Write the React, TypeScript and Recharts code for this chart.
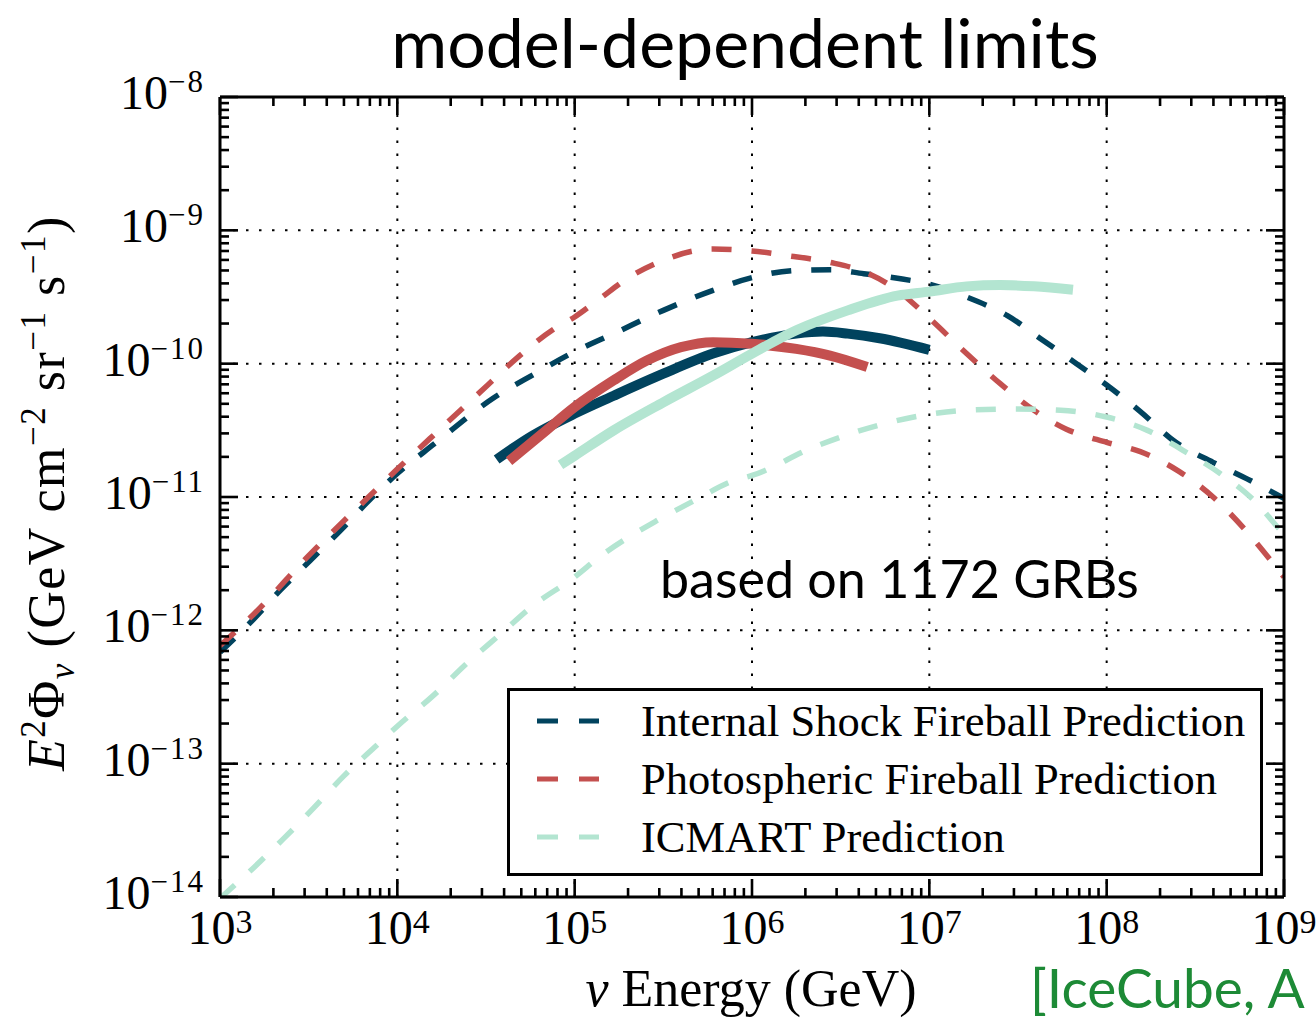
import React from 'react';
import { LineChart, Line, XAxis, YAxis, ReferenceLine, Legend } from 'recharts';

const W = 1316;
const H = 1019;

const SERIF = '"Liberation Serif", "DejaVu Serif", serif';
const SANS = 'Lato, "Open Sans", sans-serif';

const BLUE = '#01435e';
const RED = '#c4504f';
const MINT = '#b3e5d1';

// [E (GeV), E^2 Phi (GeV cm^-2 sr^-1 s^-1)]
const internalShockPrediction: [number, number][] = [
  [1e3, 6.84e-13], [1.549e3, 1.216e-12], [2.188e3, 2.0e-12], [3.236e3, 3.35e-12],
  [4.786e3, 5.62e-12], [6.761e3, 9.12e-12], [1e4, 1.5e-11], [1.622e4, 2.51e-11],
  [3.467e4, 5.5e-11], [5.888e4, 8.32e-11], [1e5, 1.23e-10], [1.66e5, 1.68e-10],
  [3.162e5, 2.51e-10], [6.026e5, 3.55e-10], [1e6, 4.42e-10], [1.778e6, 5.01e-10],
  [2.754e6, 5.07e-10], [4.266e6, 4.73e-10], [6.607e6, 4.37e-10], [1e7, 3.94e-10],
  [1.622e7, 3.16e-10], [2.754e7, 2.29e-10], [4.365e7, 1.5e-10], [6.761e7, 1.0e-10],
  [1e8, 6.92e-11], [1.549e8, 4.37e-11], [2.455e8, 2.57e-11], [3.981e8, 1.82e-11],
  [6.457e8, 1.33e-11], [1e9, 9.77e-12],
];

const internalShockLimit: [number, number][] = [
  [3.631e4, 1.91e-11], [5.623e4, 2.82e-11], [1e5, 4.22e-11], [1.66e5, 5.75e-11],
  [3.162e5, 8.41e-11], [6.026e5, 1.19e-10], [1e6, 1.45e-10], [1.778e6, 1.68e-10],
  [2.512e6, 1.74e-10], [3.467e6, 1.68e-10], [5.248e6, 1.55e-10], [1e7, 1.27e-10],
];

const photosphericPrediction: [number, number][] = [
  [1e3, 7.67e-13], [1.549e3, 1.32e-12], [3.162e3, 3.63e-12], [6.761e3, 9.77e-12],
  [1e4, 1.62e-11], [1.778e4, 3.31e-11], [3.236e4, 6.92e-11], [4.898e4, 1.15e-10],
  [7.943e4, 1.88e-10], [1e5, 2.24e-10], [1.349e5, 2.99e-10], [2.042e5, 4.47e-10],
  [3.162e5, 5.96e-10], [4.898e5, 7.08e-10], [6.026e5, 7.24e-10], [1e6, 7.0e-10],
  [1.585e6, 6.46e-10], [2.754e6, 5.75e-10], [4.266e6, 4.9e-10], [6.607e6, 3.55e-10],
  [1e7, 2.19e-10], [1.622e7, 1.19e-10], [2.512e7, 7.08e-11], [3.89e7, 4.47e-11],
  [5.888e7, 3.24e-11], [1e8, 2.57e-11], [1.549e8, 2.19e-11], [2.57e8, 1.55e-11],
  [3.981e8, 1.0e-11], [6.166e8, 5.5e-12], [8.71e8, 3.16e-12], [1e9, 2.51e-12],
];

const photosphericLimit: [number, number][] = [
  [4.266e4, 1.86e-11], [6.918e4, 3.16e-11], [1e5, 4.73e-11], [1.66e5, 7.5e-11],
  [2.57e5, 1.06e-10], [3.981e5, 1.33e-10], [6.026e5, 1.45e-10], [1e6, 1.41e-10],
  [1.778e6, 1.29e-10], [2.754e6, 1.15e-10], [4.467e6, 9.44e-11],
];

const icmartPrediction: [number, number][] = [
  [1e3, 9.77e-15], [1.549e3, 1.66e-14], [2.291e3, 2.75e-14], [3.388e3, 4.68e-14],
  [5.012e3, 8.13e-14], [7.413e3, 1.32e-13], [1e4, 1.91e-13], [1.622e4, 3.31e-13],
  [2.455e4, 5.62e-13], [3.802e4, 9.33e-13], [5.888e4, 1.55e-12], [1e5, 2.51e-12],
  [1.38e5, 3.55e-12], [2.884e5, 6.61e-12], [4.677e5, 9.33e-12], [7.943e5, 1.33e-11],
  [1e6, 1.45e-11], [2.239e6, 2.37e-11], [5.248e6, 3.47e-11], [1e7, 4.17e-11],
  [1.622e7, 4.47e-11], [3.09e7, 4.57e-11], [5.495e7, 4.47e-11], [1e8, 3.98e-11],
  [1.698e8, 3.16e-11], [2.692e8, 2.24e-11], [4.365e8, 1.5e-11], [6.761e8, 9.44e-12],
  [9.55e8, 5.62e-12], [1e9, 5.25e-12],
];

const icmartLimit: [number, number][] = [
  [8.318e4, 1.74e-11], [1e5, 2.04e-11], [1.66e5, 3.16e-11], [3.162e5, 5.13e-11],
  [6.026e5, 8.13e-11], [1e6, 1.19e-10], [1.778e6, 1.78e-10], [3.467e6, 2.51e-10],
  [6.607e6, 3.24e-10], [1e7, 3.47e-10], [1.622e7, 3.8e-10], [2.512e7, 3.89e-10],
  [3.89e7, 3.8e-10], [6.457e7, 3.59e-10],
];

const legendItems = [
  { label: 'Internal Shock Fireball Prediction', color: BLUE },
  { label: 'Photospheric Fireball Prediction', color: RED },
  { label: 'ICMART Prediction', color: MINT },
];

const X_MAJOR = [1e3, 1e4, 1e5, 1e6, 1e7, 1e8, 1e9];
const X_EXP = ['3', '4', '5', '6', '7', '8', '9'];
const Y_MAJOR = [1e-14, 1e-13, 1e-12, 1e-11, 1e-10, 1e-9, 1e-8];
const Y_EXP = ['\u221214', '\u221213', '\u221212', '\u221211', '\u221210', '\u22129', '\u22128'];
const MINOR_STEPS = [2, 3, 4, 5, 6, 7, 8, 9];

const withMinor = (majors: number[]) => [
  ...majors,
  ...majors.slice(0, -1).flatMap((d) => MINOR_STEPS.map((m) => m * d)),
];
const xTicks = withMinor(X_MAJOR);
const yTicks = withMinor(Y_MAJOR);

const toPts = (arr: [number, number][]) => arr.map(([e, f]) => ({ e, f }));

const MAJOR_LEN = 18;
const MINOR_LEN = 9;

// inward ticks, labels only on decades
const makeTick = (side: 'bottom' | 'top' | 'left' | 'right') => (props: any) => {
  const { x, y, payload } = props;
  const majors = side === 'bottom' || side === 'top' ? X_MAJOR : Y_MAJOR;
  const idx = majors.indexOf(payload.value);
  const len = idx >= 0 ? MAJOR_LEN : MINOR_LEN;
  let x2 = x;
  let y2 = y;
  if (side === 'bottom') y2 = y - len;
  if (side === 'top') y2 = y + len;
  if (side === 'left') x2 = x + len;
  if (side === 'right') x2 = x - len;
  return (
    <g>
      <line x1={x} y1={y} x2={x2} y2={y2} stroke="#000" strokeWidth={2.6} />
      {idx >= 0 && side === 'bottom' && (
        <text x={x} y={y + 47} textAnchor="middle" fontFamily={SERIF} fontSize={48} fill="#000">
          10<tspan dy={-11} fontSize={34}>{X_EXP[idx]}</tspan>
        </text>
      )}
      {idx >= 0 && side === 'left' && (
        <text x={x - 15} y={y + 12} textAnchor="end" fontFamily={SERIF} fontSize={48} fill="#000">
          10<tspan dy={-17} fontSize={31} letterSpacing={2}>{Y_EXP[idx]}</tspan>
        </text>
      )}
    </g>
  );
};

const LegendBox = () => (
  <svg width={756} height={188} style={{ display: 'block' }}>
    <rect x={1.5} y={1.5} width={753} height={185} fill="#fff" stroke="#000" strokeWidth={3} />
    {legendItems.map((it, i) => {
      const cy = 33 + i * 58;
      return (
        <g key={it.label}>
          <line x1={30} x2={92} y1={cy} y2={cy} stroke={it.color} strokeWidth={5} strokeDasharray="21 21" />
          <text x={134} y={cy + 15} fontFamily={SERIF} fontSize={44.5} fill="#000">
            {it.label}
          </text>
        </g>
      );
    })}
  </svg>
);

const sup = (s: string) => (
  <>
    <tspan dy={-19} fontSize={35}>{s}</tspan>
    <tspan dy={19}>{'\u00a0'}</tspan>
  </>
);

export default function App() {
  const series = [
    { key: 'isp', data: internalShockPrediction, color: BLUE, dashed: true },
    { key: 'psp', data: photosphericPrediction, color: RED, dashed: true },
    { key: 'icp', data: icmartPrediction, color: MINT, dashed: true },
    { key: 'isl', data: internalShockLimit, color: BLUE, dashed: false },
    { key: 'psl', data: photosphericLimit, color: RED, dashed: false },
    { key: 'icl', data: icmartLimit, color: MINT, dashed: false },
  ];

  const axisLine = { stroke: '#000', strokeWidth: 3 };

  return (
    <div style={{ position: 'absolute', left: 0, top: 0, width: W, height: H, background: '#fff' }}>
      <LineChart width={W} height={H} margin={{ top: 96, right: 31, bottom: 121, left: 219 }}>
        <XAxis
          xAxisId="b"
          dataKey="e"
          type="number"
          scale="log"
          domain={[1e3, 1e9]}
          allowDataOverflow
          ticks={xTicks}
          interval={0}
          height={1}
          tickSize={0}
          tickMargin={0}
          tick={makeTick('bottom')}
          axisLine={axisLine}
        />
        <XAxis
          xAxisId="t"
          orientation="top"
          dataKey="e"
          type="number"
          scale="log"
          domain={[1e3, 1e9]}
          allowDataOverflow
          ticks={xTicks}
          interval={0}
          height={1}
          tickSize={0}
          tickMargin={0}
          tick={makeTick('top')}
          axisLine={axisLine}
        />
        <YAxis
          yAxisId="l"
          type="number"
          scale="log"
          domain={[1e-14, 1e-8]}
          allowDataOverflow
          ticks={yTicks}
          interval={0}
          width={1}
          tickSize={0}
          tickMargin={0}
          tick={makeTick('left')}
          axisLine={axisLine}
        />
        <YAxis
          yAxisId="r"
          orientation="right"
          type="number"
          scale="log"
          domain={[1e-14, 1e-8]}
          allowDataOverflow
          ticks={yTicks}
          interval={0}
          width={1}
          tickSize={0}
          tickMargin={0}
          tick={makeTick('right')}
          axisLine={axisLine}
        />
        {X_MAJOR.slice(1, -1).map((v) => (
          <ReferenceLine key={'gx' + v} x={v} xAxisId="b" yAxisId="l" stroke="#000" strokeWidth={2} strokeDasharray="2.5 10.5" />
        ))}
        {Y_MAJOR.slice(1, -1).map((v) => (
          <ReferenceLine key={'gy' + v} y={v} xAxisId="b" yAxisId="l" stroke="#000" strokeWidth={2} strokeDasharray="2.5 10.5" />
        ))}
        {series.map((s) => (
          <Line
            key={s.key}
            xAxisId="b"
            yAxisId="l"
            data={toPts(s.data)}
            dataKey="f"
            type="monotone"
            stroke={s.color}
            strokeWidth={s.dashed ? 5.5 : 10}
            strokeDasharray={s.dashed ? '20 20' : undefined}
            dot={false}
            activeDot={false}
            isAnimationActive={false}
          />
        ))}
        <Legend
          layout="vertical"
          align="center"
          verticalAlign="middle"
          content={() => <LegendBox />}
          wrapperStyle={{ position: 'absolute', left: 507, top: 688, width: 756, height: 188 }}
        />
      </LineChart>
      <svg width={W} height={H} style={{ position: 'absolute', left: 0, top: 0, pointerEvents: 'none' }}>
        <text x={745} y={68} textAnchor="middle" fontFamily={SANS} fontSize={68} fill="#000">
          model-dependent limits
        </text>
        <text x={660} y={598} fontFamily={SANS} fontSize={52} fill="#000">
          based on 1172 GRBs
        </text>
        <text x={751} y={1006} textAnchor="middle" fontFamily={SERIF} fontSize={52} fill="#000">
          <tspan fontStyle="italic">{'\u03bd'}</tspan>
          {' Energy (GeV)'}
        </text>
        <text x={1030} y={1008} fontFamily={SANS} fontSize={55} fill="#1d8a36">
          [IceCube, A
        </text>
        <text transform="translate(64,493) rotate(-90)" textAnchor="middle" fontFamily={SERIF} fontSize={52} letterSpacing={1.5} fill="#000">
          <tspan fontStyle="italic">E</tspan>
          <tspan dy={-19} fontSize={35}>2</tspan>
          <tspan dy={19}>{'\u03a6'}</tspan>
          <tspan dy={10} fontSize={35} fontStyle="italic">{'\u03bd'}</tspan>
          <tspan dy={-10}>{'\u00a0(GeV cm'}</tspan>
          {sup('\u22122')}
          <tspan>sr</tspan>
          {sup('\u22121')}
          <tspan>s</tspan>
          <tspan dy={-19} fontSize={35}>{'\u22121'}</tspan>
          <tspan dy={19}>)</tspan>
        </text>
      </svg>
    </div>
  );
}
